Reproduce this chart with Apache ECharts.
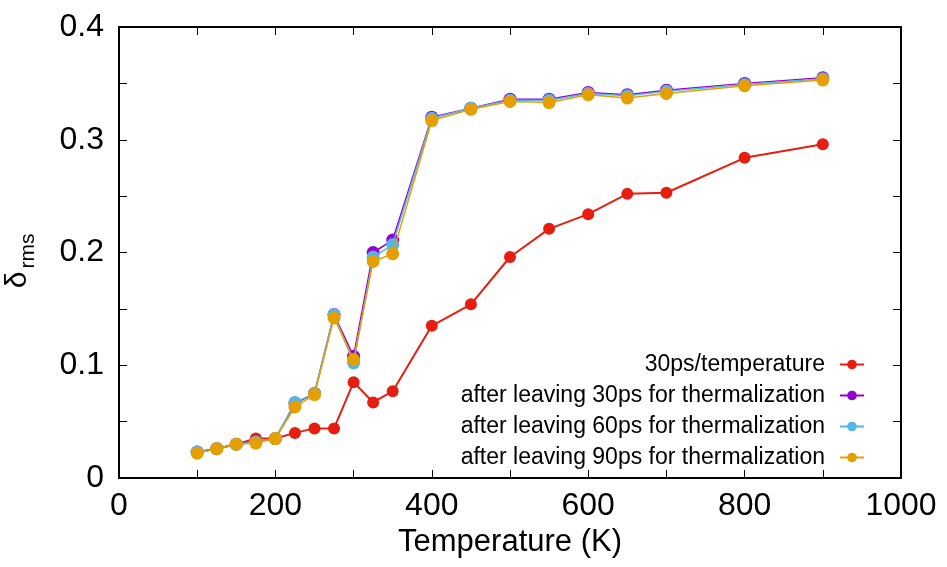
<!DOCTYPE html>
<html>
<head>
<meta charset="utf-8">
<script src="https://cdn.jsdelivr.net/npm/echarts@6/dist/echarts.min.js"></script>
<style>
  html, body { margin: 0; padding: 0; background: #fff; }
  #chart { width: 947px; height: 567px; }
</style>
</head>
<body>
<div id="chart"></div>
<script>
// Temperatures (K) at which delta_rms was sampled
const temperatures = [100, 125, 150, 175, 200, 225, 250, 275, 300, 325, 350, 400, 450, 500, 550, 600, 650, 700, 800, 900];

// delta_rms for each protocol
const run30psPerTemp = [0.023, 0.026, 0.030, 0.035, 0.035, 0.040, 0.044, 0.044, 0.085, 0.067, 0.077, 0.135, 0.154, 0.196, 0.221, 0.234, 0.252, 0.253, 0.284, 0.296];
const therm30ps = [0.023, 0.026, 0.030, 0.032, 0.035, 0.066, 0.075, 0.145, 0.108, 0.200, 0.211, 0.320, 0.328, 0.336, 0.336, 0.342, 0.340, 0.344, 0.350, 0.355];
const therm60ps = [0.023, 0.026, 0.030, 0.032, 0.035, 0.067, 0.075, 0.145, 0.102, 0.196, 0.207, 0.319, 0.328, 0.335, 0.335, 0.341, 0.339, 0.343, 0.349, 0.354];
const therm90ps = [0.022, 0.026, 0.030, 0.031, 0.035, 0.063, 0.074, 0.142, 0.105, 0.192, 0.199, 0.317, 0.327, 0.334, 0.333, 0.340, 0.337, 0.341, 0.348, 0.353];

const seriesNames = [
  '30ps/temperature',
  'after leaving 30ps for thermalization',
  'after leaving 60ps for thermalization',
  'after leaving 90ps for thermalization'
];
const seriesValues = [run30psPerTemp, therm30ps, therm60ps, therm90ps];
const seriesColors = ['#e51e10', '#9400d3', '#56b4e9', '#e69f00'];

const FONT = "'Liberation Sans', Arial, sans-serif";

const pair = (vals) => temperatures.map((t, i) => [t, vals[i]]);

const frameAxis = {
  axisLine: { show: true, onZero: false, lineStyle: { color: '#000', width: 2 } },
  axisTick: { show: true, inside: true, length: 8, lineStyle: { color: '#000', width: 1 } },
  minorTick: { show: true, splitNumber: 2, length: 8, lineStyle: { color: '#000', width: 1 } },
  splitLine: { show: false }
};

const chart = echarts.init(document.getElementById('chart'), null, { renderer: 'canvas' });

chart.setOption({
  backgroundColor: '#fff',
  animation: false,
  textStyle: { fontFamily: FONT },
  grid: { left: 119, right: 46, top: 27, bottom: 89, containLabel: false },
  xAxis: [
    Object.assign({}, frameAxis, {
      type: 'value', position: 'bottom', min: 0, max: 1000, interval: 200,
      axisLabel: { color: '#000', fontSize: 32, fontFamily: FONT, margin: 12, formatter: (v) => String(v) },
      name: 'Temperature (K)', nameLocation: 'middle', nameGap: 46,
      nameTextStyle: { color: '#000', fontSize: 31, fontFamily: FONT }
    }),
    Object.assign({}, frameAxis, {
      type: 'value', position: 'top', min: 0, max: 1000, interval: 200,
      axisLabel: { show: false }
    })
  ],
  yAxis: [
    Object.assign({}, frameAxis, {
      type: 'value', position: 'left', min: 0, max: 0.4, interval: 0.1,
      axisLabel: { color: '#000', fontSize: 32, fontFamily: FONT, margin: 15 }
    }),
    Object.assign({}, frameAxis, {
      type: 'value', position: 'right', min: 0, max: 0.4, interval: 0.1,
      axisLabel: { show: false }
    })
  ],
  legend: {
    orient: 'vertical',
    align: 'right',
    right: 77,
    top: 348,
    itemGap: 8,
    itemWidth: 24,
    itemHeight: 12,
    data: seriesNames,
    textStyle: { color: '#000', fontSize: 23, fontFamily: FONT, padding: [0, 10, 0, 0] }
  },
  graphic: [
    {
      type: 'text', x: 18, y: 280, rotation: Math.PI / 2,
      style: { text: 'δ', fontSize: 30, fontFamily: FONT, fill: '#000', align: 'center', verticalAlign: 'middle' }
    },
    {
      type: 'text', x: 28, y: 251, rotation: Math.PI / 2,
      style: { text: 'rms', fontSize: 21, fontFamily: FONT, fill: '#000', align: 'center', verticalAlign: 'middle' }
    }
  ],
  series: seriesNames.map((name, k) => ({
    name: name,
    type: 'line',
    data: pair(seriesValues[k]),
    symbol: 'circle',
    symbolSize: k === 0 ? 12 : 13,
    showSymbol: true,
    z: 2 + k,
    itemStyle: { color: seriesColors[k] },
    lineStyle: { color: seriesColors[k], width: k === 0 ? 2 : 1.5 },
    emphasis: { disabled: true }
  }))
});
</script>
</body>
</html>
